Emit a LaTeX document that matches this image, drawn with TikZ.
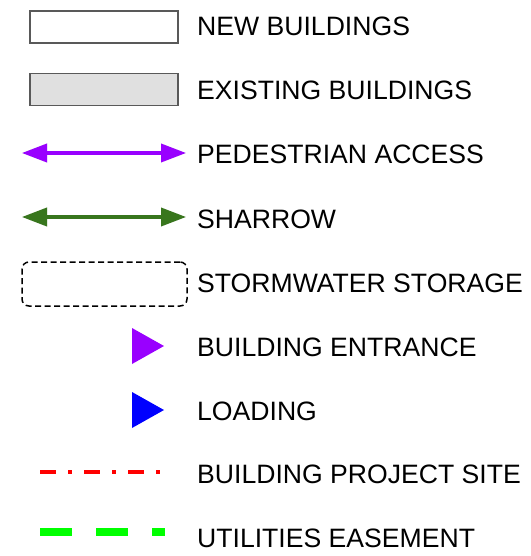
\documentclass[tikz,border=0pt]{standalone}
\usepackage{fontspec}
\setmainfont{Liberation Sans}
\usetikzlibrary{arrows.meta}
\definecolor{pedpurple}{HTML}{9900FF}
\definecolor{sharrowgreen}{HTML}{38761D}
\definecolor{boxgray}{HTML}{595959}
\definecolor{existfill}{HTML}{E0E0E0}
\definecolor{easegreen}{HTML}{00FF00}

\begin{document}
\begin{tikzpicture}[x=1pt, y=-1pt,
    legtext/.style={anchor=base west, inner sep=0pt, font=\fontsize{26.6}{30}\selectfont},
    bldbox/.style={draw=boxgray, line width=1.8pt, minimum width=148pt, minimum height=32pt, inner sep=0pt},
    twoway/.style={line width=3.5pt, {Triangle[length=25pt,width=18pt]}-{Triangle[length=25pt,width=18pt]}},
    shadowline/.style={twoway, draw=black, fill=black, opacity=0.15}]
    \useasboundingbox (0,0) rectangle (530,556);

    % Symbols
    \node[bldbox, fill=white] (newbld) at (104,27) {};
    \node[bldbox, fill=existfill] (existbld) at (104,89.5) {};

    \coordinate (pedL) at (22,153);
    \coordinate (pedR) at (186,153);
    \draw[shadowline, shift={(1,3)}] (pedL) -- (pedR);
    \draw[twoway, pedpurple] (pedL) -- (pedR);

    \coordinate (shaL) at (22,217);
    \coordinate (shaR) at (186,217);
    \draw[shadowline, shift={(1,3)}] (shaL) -- (shaR);
    \draw[twoway, sharrowgreen] (shaL) -- (shaR);

    \node[draw, dashed, line width=1.5pt, dash pattern=on 6pt off 3.5pt, rounded corners=7pt,
          minimum width=165pt, minimum height=44pt, inner sep=0pt] (storm) at (104.5,284) {};

    \fill[pedpurple] (132,328) -- (132,364) -- (164,346) -- cycle;
    \fill[blue] (132,392) -- (132,428) -- (164,410) -- cycle;

    \coordinate (siteL) at (40,472);
    \coordinate (siteR) at (161,472);
    \draw[red, line width=3.5pt, dash pattern=on 16pt off 12pt on 4pt off 12pt] (siteL) -- (siteR);

    \coordinate (easeL) at (40,532);
    \coordinate (easeR) at (165,532);
    \draw[easegreen, line width=8pt, dash pattern=on 32pt off 24pt] (easeL) -- (easeR);

    % Labels
    \node[legtext] (newtxt) at (197,36) {NEW BUILDINGS};
    \node[legtext] (existtxt) at (197,100) {EXISTING BUILDINGS};
    \node[legtext] (pedtxt) at (197,164) {PEDESTRIAN ACCESS};
    \node[legtext] (shatxt) at (197,228) {SHARROW};
    \node[legtext] (stormtxt) at (197,292) {STORMWATER STORAGE};
    \node[legtext] (entrtxt) at (197,356) {BUILDING ENTRANCE};
    \node[legtext] (loadtxt) at (197,420) {LOADING};
    \node[legtext] (sitetxt) at (197,483.5) {BUILDING PROJECT SITE};
    \node[legtext] (easetxt) at (197,547.5) {UTILITIES EASEMENT};
\end{tikzpicture}
\end{document}
